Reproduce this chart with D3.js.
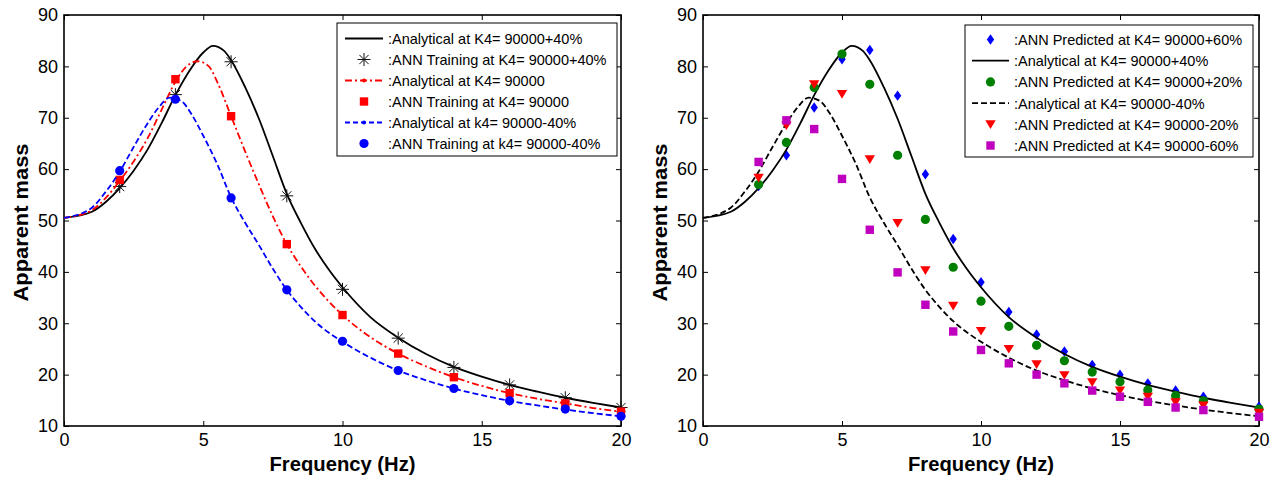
<!DOCTYPE html>
<meta charset="utf-8">
<style>
body { margin: 0; background: #fff; }
svg { font-family: "Liberation Sans", Arial, Helvetica, sans-serif; }
.axis text { font-size: 18px; fill: #000; }
.axis line { stroke: #000; stroke-width: 1; }
.axis .domain { display: none; }
.frame { fill: none; stroke: #000; stroke-width: 1.6; }
.title { font-size: 20px; font-weight: bold; }
.legendBox { fill: #fff; stroke: #000; stroke-width: 1; }
.legend text { font-size: 14.5px; }
</style>
<body>
<div id="chart"></div>
<script src="https://d3js.org/d3.v7.min.js"></script>
<script>
// analytical curves (Hz, apparent mass)
var fHigh = [0, 1, 1.5, 2, 2.5, 3, 3.5, 4, 4.5, 5, 5.35, 5.75, 6, 6.5, 7, 7.5, 8, 8.5, 9, 9.5, 10, 11, 12, 13, 14, 15, 16, 17, 18, 19, 20];
var analyticalHigh = [50.5, 51.7, 53.6, 56.3, 59.7, 63.8, 68.9, 74.4, 79.1, 82.7, 84.0, 83.0, 81.2, 76.0, 69.8, 62.5, 55.2, 49.6, 44.6, 40.5, 37.0, 31.2, 27.2, 24.0, 21.5, 19.6, 18.0, 16.7, 15.5, 14.5, 13.6];

var fMid = [0, 1, 1.5, 2, 2.5, 3, 3.5, 4, 4.4, 4.8, 5.2, 5.5, 6, 6.5, 7, 7.5, 8, 8.5, 9, 9.5, 10, 11, 12, 13, 14, 15, 16, 17, 18, 19, 20];
var analyticalMid = [50.5, 52.0, 54.4, 57.7, 61.5, 66.0, 71.5, 77.0, 80.0, 81.0, 80.0, 77.0, 70.3, 63.5, 57.0, 50.8, 45.4, 41.1, 37.4, 34.3, 31.6, 27.3, 24.1, 21.6, 19.5, 17.8, 16.4, 15.3, 14.4, 13.5, 12.8];

var fLow = [0, 1, 1.5, 2, 2.5, 3, 3.4, 3.8, 4.2, 4.6, 5, 5.5, 6, 6.5, 7, 7.5, 8, 8.5, 9, 9.5, 10, 11, 12, 13, 14, 15, 16, 17, 18, 19, 20];
var analyticalLow = [50.5, 52.5, 55.6, 59.5, 64.3, 68.9, 72.0, 73.9, 73.3, 70.5, 66.5, 61.0, 54.5, 49.6, 45.2, 40.6, 36.5, 33.2, 30.4, 28.2, 26.4, 23.3, 20.8, 18.9, 17.3, 16.0, 14.9, 14.0, 13.2, 12.5, 11.9];

// ANN training points (left plot)
var fTrain = [2, 4, 6, 8, 10, 12, 14, 16, 18, 20];
var trainHigh = [56.6, 74.5, 80.9, 54.8, 36.6, 27.1, 21.4, 18.0, 15.5, 13.6];
var trainMid = [57.9, 77.5, 70.3, 45.4, 31.6, 24.1, 19.5, 16.4, 14.4, 12.8];
var trainLow = [59.7, 73.6, 54.4, 36.5, 26.5, 20.8, 17.3, 14.9, 13.3, 11.9];

// ANN predicted points (right plot)
var fPred = [2, 3, 4, 5, 6, 7, 8, 9, 10, 11, 12, 13, 14, 15, 16, 17, 18, 20];
var predP60 = [56.7, 62.7, 72.0, 81.4, 83.2, 74.3, 59.0, 46.4, 38.0, 32.2, 27.8, 24.5, 21.9, 20.0, 18.3, 16.9, 15.7, 13.8];
var predP20 = [57.0, 65.2, 75.9, 82.4, 76.5, 62.7, 50.2, 40.9, 34.3, 29.4, 25.7, 22.7, 20.5, 18.6, 17.0, 15.9, 14.9, 13.3];
var predM20 = [58.3, 68.5, 76.5, 74.6, 61.9, 49.5, 40.3, 33.4, 28.5, 25.0, 22.0, 19.9, 18.5, 16.9, 15.7, 14.6, 14.0, 12.6];
var predM60 = [61.4, 69.5, 67.8, 58.1, 48.2, 39.9, 33.6, 28.4, 24.8, 22.2, 20.0, 18.3, 16.9, 15.7, 14.7, 13.6, 13.1, 11.8];

var xTicks = [0, 5, 10, 15, 20];
var yTicks = [10, 20, 30, 40, 50, 60, 70, 80, 90];

var svg = d3.select("#chart").append("svg")
    .attr("width", 1273)
    .attr("height", 479);

// marker shapes
var starPath = "M-6.5,0H6.5M0,-6.5V6.5M-4.6,-4.6L4.6,4.6M-4.6,4.6L4.6,-4.6";
var diamondPath = "M0,-5.2L3.7,0L0,5.2L-3.7,0Z";
var trianglePath = "M-5.2,-4L5.2,-4L0,4.6Z";

function drawMarker(sel, type, color) {
    if (type == "star") {
        sel.append("path").attr("d", starPath).attr("fill", "none").attr("stroke", "#111").attr("stroke-width", 1);
    } else if (type == "square") {
        sel.append("rect").attr("x", -4.2).attr("y", -4.2).attr("width", 8.4).attr("height", 8.4).attr("fill", color);
    } else if (type == "circle") {
        sel.append("circle").attr("r", 4.6).attr("fill", color);
    } else if (type == "diamond") {
        sel.append("path").attr("d", diamondPath).attr("fill", color);
    } else if (type == "triangle") {
        sel.append("path").attr("d", trianglePath).attr("fill", color);
    }
}

function panel(left, right, top, bottom) {
    var x = d3.scaleLinear().domain([0, 20]).range([left, right]);
    var y = d3.scaleLinear().domain([10, 90]).range([bottom, top]);
    var g = svg.append("g");

    g.append("g").attr("class", "axis")
        .attr("transform", "translate(0," + bottom + ")")
        .call(d3.axisBottom(x).tickValues(xTicks).tickSize(-5).tickSizeOuter(0).tickPadding(7));
    g.append("g").attr("class", "axis")
        .attr("transform", "translate(0," + top + ")")
        .call(d3.axisTop(x).tickValues(xTicks).tickSize(-5).tickSizeOuter(0).tickFormat(""));
    g.append("g").attr("class", "axis")
        .attr("transform", "translate(" + left + ",0)")
        .call(d3.axisLeft(y).tickValues(yTicks).tickSize(-5).tickSizeOuter(0).tickPadding(6));
    g.append("g").attr("class", "axis")
        .attr("transform", "translate(" + right + ",0)")
        .call(d3.axisRight(y).tickValues(yTicks).tickSize(-5).tickSizeOuter(0).tickFormat(""));

    g.append("rect").attr("class", "frame")
        .attr("x", left).attr("y", top)
        .attr("width", right - left).attr("height", bottom - top);

    g.append("text").attr("class", "title")
        .attr("x", (left + right) / 2).attr("y", 471)
        .attr("text-anchor", "middle")
        .attr("textLength", 146).attr("lengthAdjust", "spacingAndGlyphs")
        .text("Frequency (Hz)");
    g.append("text").attr("class", "title")
        .attr("transform", "translate(" + (left - 36) + "," + ((top + bottom) / 2 + 2) + ") rotate(-90)")
        .attr("text-anchor", "middle")
        .attr("textLength", 158).attr("lengthAdjust", "spacingAndGlyphs")
        .text("Apparent mass");

    return { g: g, x: x, y: y };
}

function addLine(p, f, v, color, dash) {
    var line = d3.line()
        .x(function(d) { return p.x(d[0]); })
        .y(function(d) { return p.y(d[1]); })
        .curve(d3.curveMonotoneX);
    p.g.append("path")
        .datum(d3.zip(f, v))
        .attr("fill", "none")
        .attr("stroke", color)
        .attr("stroke-width", 1.8)
        .attr("stroke-dasharray", dash)
        .attr("d", line);
}

function addMarkers(p, f, v, type, color) {
    p.g.selectAll(null)
        .data(d3.zip(f, v))
        .enter().append("g")
        .attr("transform", function(d) { return "translate(" + p.x(d[0]) + "," + p.y(d[1]) + ")"; })
        .each(function() { drawMarker(d3.select(this), type, color); });
}

function legend(bx, by, bw, bh, y0, step, sampleX0, sampleX1, textX, items) {
    var lg = svg.append("g").attr("class", "legend");
    lg.append("rect").attr("class", "legendBox").attr("x", bx).attr("y", by).attr("width", bw).attr("height", bh);
    items.forEach(function(it, i) {
        var cy = y0 + i * step;
        var mx = (sampleX0 + sampleX1) / 2;
        if (it.line) {
            lg.append("line")
                .attr("x1", sampleX0).attr("x2", sampleX1)
                .attr("y1", cy).attr("y2", cy)
                .attr("stroke", it.color).attr("stroke-width", 1.8)
                .attr("stroke-dasharray", it.dash);
            if (it.dot) lg.append("circle").attr("cx", mx).attr("cy", cy).attr("r", 2).attr("fill", it.color);
        } else {
            drawMarker(lg.append("g").attr("transform", "translate(" + mx + "," + cy + ")"), it.marker, it.color);
        }
        lg.append("text").attr("x", textX).attr("y", cy + 5.5).text(it.label);
    });
}

// left plot
var pl = panel(64, 621, 15, 426);
addLine(pl, fHigh, analyticalHigh, "#000", null);
addMarkers(pl, fTrain, trainHigh, "star", "#000");
addLine(pl, fMid, analyticalMid, "#ff0000", "7,3,2,3");
addMarkers(pl, fTrain, trainMid, "square", "#ff0000");
addLine(pl, fLow, analyticalLow, "#0000ff", "6,3");
addMarkers(pl, fTrain, trainLow, "circle", "#0000ff");

legend(337, 23, 280, 133, 38.5, 21, 345, 383, 388, [
    { line: true, color: "#000", dash: null, label: ":Analytical at K4= 90000+40%" },
    { marker: "star", color: "#000", label: ":ANN Training at K4= 90000+40%" },
    { line: true, dot: true, color: "#ff0000", dash: "7,3,2,3", label: ":Analytical at K4= 90000" },
    { marker: "square", color: "#ff0000", label: ":ANN Training at K4= 90000" },
    { line: true, dot: true, color: "#0000ff", dash: "5,3", label: ":Analytical at k4= 90000-40%" },
    { marker: "circle", color: "#0000ff", label: ":ANN Training at k4= 90000-40%" }
]);

// right plot
var pr = panel(703, 1259, 15, 426);
addMarkers(pr, fPred, predP60, "diamond", "#0000ff");
addLine(pr, fHigh, analyticalHigh, "#000", null);
addMarkers(pr, fPred, predP20, "circle", "#008000");
addLine(pr, fLow, analyticalLow, "#000", "6,3");
addMarkers(pr, fPred, predM20, "triangle", "#ff0000");
addMarkers(pr, fPred, predM60, "square", "#bf00bf");

legend(965, 25, 288, 132, 39.5, 21.2, 972, 1009, 1014, [
    { marker: "diamond", color: "#0000ff", label: ":ANN Predicted at K4= 90000+60%" },
    { line: true, color: "#000", dash: null, label: ":Analytical at K4= 90000+40%" },
    { marker: "circle", color: "#008000", label: ":ANN Predicted at K4= 90000+20%" },
    { line: true, color: "#000", dash: "6,3", label: ":Analytical at K4= 90000-40%" },
    { marker: "triangle", color: "#ff0000", label: ":ANN Predicted at K4= 90000-20%" },
    { marker: "square", color: "#bf00bf", label: ":ANN Predicted at K4= 90000-60%" }
]);
</script>
</body>
